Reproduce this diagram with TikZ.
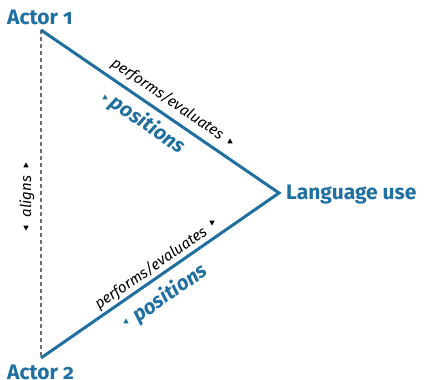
\documentclass[tikz,border=0pt]{standalone}
\usepackage{fontspec}
\setmainfont{Fira Sans}[Numbers=OldStyle]
\definecolor{lblue}{HTML}{1F6FA0}
\definecolor{dgray}{HTML}{707070}
\newcommand\uptri[1]{\fill #1 ++(0,-2.6) -- ++(2.7,5) -- ++(-5.4,0) -- cycle;}
\newcommand\downtri[1]{\fill #1 ++(0,2.6) -- ++(2.7,-5) -- ++(-5.4,0) -- cycle;}
\begin{document}
\begin{tikzpicture}[x=1pt,y=-1pt,
  vertex/.style={font=\bfseries\fontsize{21}{24}\selectfont, text=lblue, inner sep=0pt},
  edge/.style={draw=lblue, line width=3pt},
  rel/.style={font=\itshape\fontsize{15}{17}\selectfont, inner sep=0pt},
  poslabel/.style={font=\bfseries\itshape\fontsize{20.5}{23}\selectfont, text=lblue, inner sep=0pt}]
\useasboundingbox (0,0) rectangle (424,380);
\coordinate (A1) at (41,30);
\coordinate (L) at (279,193);
\coordinate (A2) at (41,358);
\node[vertex, anchor=base west] (a1) at (7,24) {Actor 1};
\node[vertex, anchor=base west] (a2) at (7,379) {Actor 2};
\node[vertex, anchor=base west] (lu) at (286,199) {Language use};
\draw[dgray, line width=1.1pt, dash pattern=on 4pt off 3pt] (A1) -- (A2);
\draw[edge] (A1) -- (L) -- (A2);
\node[rel, rotate=-34.4] (pe1) at (167.5,99) {performs/evaluates};
\node[poslabel, rotate=-34.4] (po1) at (147.5,125) {positions};
\node[rel, rotate=34.7] (pe2) at (151,268.5) {performs/evaluates};
\node[poslabel, rotate=34.7] (po2) at (170,293.5) {positions};
\node[rel, rotate=90] (al) at (27,196.5) {aligns};
\uptri{(230,141)}
\downtri{(212,223)}
\uptri{(26,165)}
\downtri{(26,228)}
\begin{scope}[lblue]
\uptri{(105,97)}
\uptri{(126,321)}
\end{scope}
\end{tikzpicture}
\end{document}
